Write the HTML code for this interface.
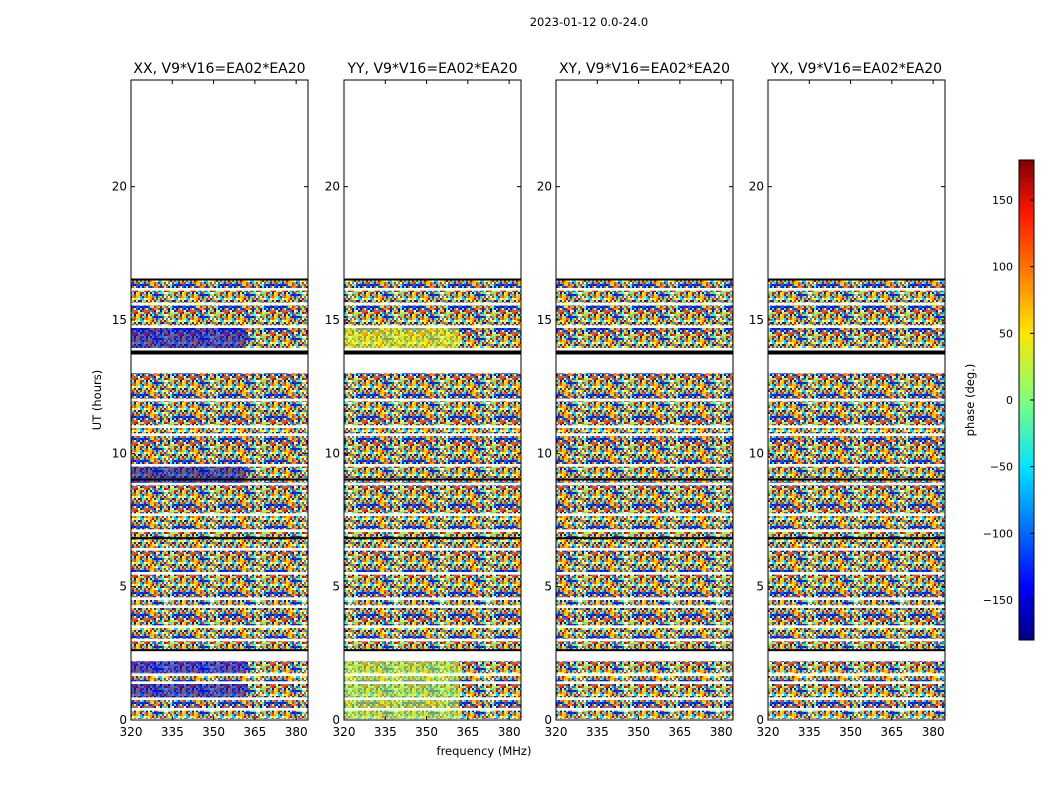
<!DOCTYPE html>
<html><head><meta charset="utf-8"><style>
body{margin:0;background:#fff;font-family:"DejaVu Sans",sans-serif}
svg text{font-family:"DejaVu Sans",sans-serif}
</style></head><body>
<svg id="c" width="1050" height="800" viewBox="0 0 1050 800" xmlns="http://www.w3.org/2000/svg">
<defs>
<linearGradient id="jet" x1="0" y1="1" x2="0" y2="0">
<stop offset="0" stop-color="#00007f"/><stop offset="0.11" stop-color="#0000ff"/><stop offset="0.36" stop-color="#00e5ff"/><stop offset="0.5" stop-color="#7fff7a"/><stop offset="0.64" stop-color="#ffe500"/><stop offset="0.89" stop-color="#ff1500"/><stop offset="1" stop-color="#7f0000"/>
</linearGradient>
<pattern id="noise" width="46" height="22" patternUnits="userSpaceOnUse">
<g id="tile"></g>
</pattern>
</defs>
<text x="589" y="26" font-size="11.5" text-anchor="middle">2023-01-12 0.0-24.0</text>
<g id="panels"></g>
<text x="484" y="755" font-size="11.5" text-anchor="middle">frequency (MHz)</text>
<text x="101" y="400" font-size="11.5" text-anchor="middle" transform="rotate(-90 101 400)">UT (hours)</text>
<g id="cbar"></g>
<text x="974" y="400" font-size="11.5" text-anchor="middle" transform="rotate(-90 974 400)">phase (deg.)</text>
</svg>
<script>
const titles=["XX, V9*V16=EA02*EA20","YY, V9*V16=EA02*EA20","XY, V9*V16=EA02*EA20","YX, V9*V16=EA02*EA20"];
const xTicks=[320,335,350,365,380];
const yTicks=[0,5,10,15,20];
const cbTicks=[-150,-100,-50,0,50,100,150];
const bandStart=[0.05,0.45,0.85,1.45,1.75,2.65,3.05,3.55,4.3,4.6,5.55,6.45,7.15,7.75,8.9,9.6,10.75,11.05,12.05,13.95,14.8,15.65,16.2];
const bandEnd=[0.35,0.75,1.35,1.65,2.2,2.95,3.45,4.2,4.5,5.45,6.35,7.05,7.65,8.8,9.5,10.65,10.95,11.95,13.0,14.7,15.55,16.1,16.55];
const blackLines=[2.6,6.8,9.0,13.8,16.5];
const tintPanel=[0,0,0,0,1,1,1,1,1,1];
const tintBand=[19,14,4,2,0,1,2,3,4,19];
const tintPhase=[-150,-160,-140,-150,20,30,15,25,20,40];
const panelX=[131,344,556,768], PW=177, Y0=720, Y1=80;
const NS="http://www.w3.org/2000/svg";
function mk(t,a,p){const e=document.createElementNS(NS,t);for(const k in a)e.setAttribute(k,a[k]);p.appendChild(e);return e;}
const yS=h=>Y0-(h/24)*(Y0-Y1);
const xS=(f,px)=>px+(f-320)/(384.3-320)*PW;
function jet(v){const t=(v+180)/360;const r=Math.max(0,Math.min(1,1.5-Math.abs(4*t-3))),g=Math.max(0,Math.min(1,1.5-Math.abs(4*t-2))),b=Math.max(0,Math.min(1,1.5-Math.abs(4*t-1)));return`rgb(${r*255|0},${g*255|0},${b*255|0})`;}
const tileCols=["#0000ff","#ffea00","#00d4ff","#ff2000","#7fff7f","#0060ff","#ff9000","#30ffc8","#c80000","#00a0ff","#e0ff10","#1010c0","#ff5000","#50ff9f","#0030ff","#ffc000","#ffffff"];
const tile=document.getElementById('tile');
for(let i=0;i<23;i++)for(let j=0;j<11;j++){mk('rect',{x:i*2,y:j*2,width:2,height:2,fill:tileCols[(i*i*7+j*13+i*j*5+j*j*3)%17]},tile);}
const P=document.getElementById('panels');
panelX.forEach((px,pi)=>{
 const g=mk('g',{},P);
 mk('text',{x:px+PW/2,y:73,'font-size':14,'text-anchor':'middle'},g).textContent=titles[pi];
 bandStart.forEach((s,bi)=>{
  const r=mk('rect',{x:px,y:yS(bandEnd[bi]),width:PW,height:yS(s)-yS(bandEnd[bi]),fill:'url(#noise)'},g);
  
  
  tintPanel.forEach((tp,ti)=>{if(tp===pi&&tintBand[ti]===bi){const t=mk('rect',{x:px,y:yS(bandEnd[bi]),width:PW*0.65,height:yS(s)-yS(bandEnd[bi]),fill:jet(tintPhase[ti]),opacity:0.55},g);}});
 });
 blackLines.forEach(h=>{const l=mk('rect',{x:px,y:yS(h)-1.5,width:PW,height:h===13.8?4:2,fill:'#000'},g);});
 mk('rect',{x:px,y:Y1,width:PW,height:Y0-Y1,fill:'none',stroke:'#000','stroke-width':1},g);
 xTicks.forEach(f=>{const x=xS(f,px);mk('line',{x1:x,x2:x,y1:Y0,y2:Y0-4,stroke:'#000'},g);mk('line',{x1:x,x2:x,y1:Y1,y2:Y1+4,stroke:'#000'},g);mk('text',{x:x,y:Y0+16,'font-size':12,'text-anchor':'middle'},g).textContent=f;});
 yTicks.forEach(h=>{const y=yS(h);mk('line',{x1:px,x2:px+4,y1:y,y2:y,stroke:'#000'},g);mk('line',{x1:px+PW,x2:px+PW-4,y1:y,y2:y,stroke:'#000'},g);mk('text',{x:px-4,y:y+4,'font-size':12,'text-anchor':'end'},g).textContent=h;});
});
const C=document.getElementById('cbar');
mk('rect',{x:1019,y:160,width:15,height:480,fill:'url(#jet)',stroke:'#000'},C);
cbTicks.forEach(v=>{const y=640-(v+180)/360*480;mk('line',{x1:1030,x2:1034,y1:y,y2:y,stroke:'#000'},C);mk('text',{x:1013,y:y+4,'font-size':11,'text-anchor':'end'},C).textContent=String(v).replace('-','−');});
</script>
</body></html>
